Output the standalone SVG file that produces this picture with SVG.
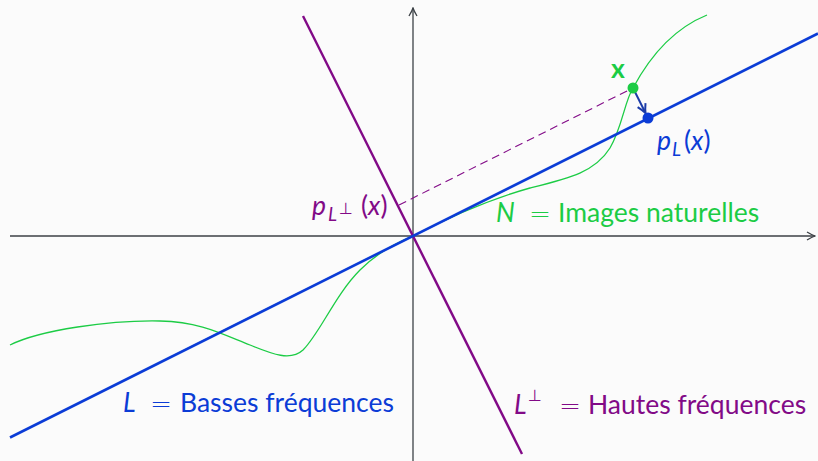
<svg xmlns="http://www.w3.org/2000/svg" width="818" height="461" viewBox="0 0 818 461">
<defs>
<style>
.t{font-family:Lato,"Open Sans","DejaVu Sans",sans-serif;font-size:26.5px}
.i{font-style:italic}
.g{fill:#1ccc45}.b{fill:#0b3cd6}.p{fill:#820a87}
.eq{font-family:"DejaVu Sans",sans-serif;font-size:24px;font-weight:300}
.axis{stroke:#3c4146;stroke-width:1.3;fill:none}
</style>
<marker id="ax" viewBox="0 0 10 10" refX="9" refY="5" markerWidth="10" markerHeight="10" markerUnits="userSpaceOnUse" orient="auto">
<path d="M1,1 Q6,4 9,5 Q6,6 1,9" fill="none" stroke="#3c4146" stroke-width="1.3"/>
</marker>
<marker id="ar" viewBox="0 0 10 10" refX="9" refY="5" markerWidth="11" markerHeight="11" markerUnits="userSpaceOnUse" orient="auto">
<path d="M1,1 Q6,4 9,5 Q6,6 1,9" fill="none" stroke="#1a3aa8" stroke-width="1.8"/>
</marker>
</defs>
<rect width="818" height="461" fill="#fbfbfb"/>
<g id="axes">
<line class="axis" x1="10" y1="236" x2="815" y2="236" marker-end="url(#ax)"/>
<line class="axis" x1="413" y1="461" x2="413" y2="8" marker-end="url(#ax)"/>
</g>
<g id="curve-N">
<path d="M10,345 C40,330 110,320 160,321 C200,322 220,333 250,345 C270,353 290,362 303,350 C320,333 335,295 360,270 C378,252 398,242 413,236 C440,222 480,202 530,188 C570,178 595,172 610,148 C622,128 625,100 633,88 C648,60 670,30 707,15" fill="none" stroke="#1ccc45" stroke-width="1.3"/>
</g>
<g id="line-Lperp">
<line x1="303" y1="16" x2="522" y2="454" stroke="#820a87" stroke-width="2.4"/>
</g>
<g id="line-L">
<line x1="10" y1="437.5" x2="818" y2="33.5" stroke="#0b3cd6" stroke-width="2.6"/>
</g>
<g id="connectors">
<line x1="399" y1="205" x2="633" y2="88" stroke="#820a87" stroke-width="1.1" stroke-dasharray="8,5"/>
<line x1="633" y1="88" x2="645.5" y2="113" stroke="#1a3aa8" stroke-width="2" marker-end="url(#ar)"/>
</g>
<g id="point-x">
<circle cx="633" cy="88" r="5.5" fill="#1ccc45"/>
<text class="t g" x="611" y="78" font-weight="bold" font-size="25">x</text>
</g>
<g id="point-pL">
<circle cx="648" cy="118" r="5.5" fill="#0b3cd6"/>
<text class="t b" y="150"><tspan class="i" x="657">p</tspan><tspan class="i" x="672" y="156" font-size="19">L</tspan><tspan x="684" y="150">(</tspan><tspan class="i">x</tspan>)</text>
</g>
<g id="point-pLperp">
<text class="t p" y="215"><tspan class="i" x="312">p</tspan><tspan class="i" x="328" y="221" font-size="19">L</tspan><tspan x="339" y="214" font-size="16">⊥</tspan><tspan x="361" y="215">(</tspan><tspan class="i">x</tspan>)</text>
</g>
<g id="label-N">
<text class="t g" y="222"><tspan class="i" x="496">N</tspan><tspan x="558">Images naturelles</tspan></text>
<text class="eq g" x="529" y="222" textLength="22" lengthAdjust="spacingAndGlyphs">=</text>
</g>
<g id="label-L">
<text class="t b" y="412"><tspan class="i" x="123">L</tspan><tspan x="180">Basses fréquences</tspan></text>
<text class="eq b" x="150" y="412" textLength="22" lengthAdjust="spacingAndGlyphs">=</text>
</g>
<g id="label-Lperp">
<text class="t p" y="414"><tspan class="i" x="514">L</tspan><tspan x="528" y="401" font-size="16">⊥</tspan><tspan x="588" y="414">Hautes fréquences</tspan></text>
<text class="eq p" x="559" y="414" textLength="22" lengthAdjust="spacingAndGlyphs">=</text>
</g>
</svg>
